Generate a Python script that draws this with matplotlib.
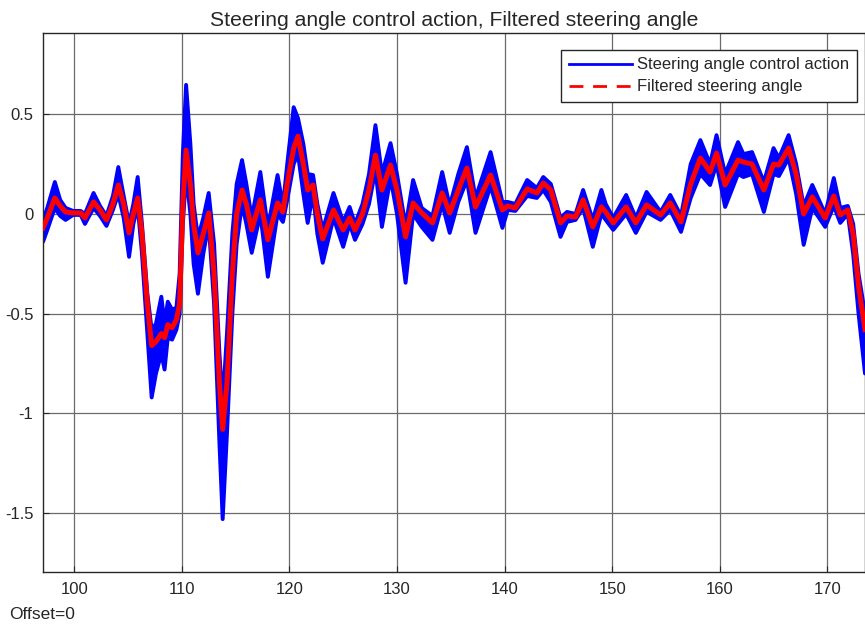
import matplotlib
matplotlib.use("Agg")
import matplotlib.pyplot as plt
from matplotlib.lines import Line2D

plt.rcParams['font.family'] = ['Liberation Sans', 'DejaVu Sans']

# time (s), filtered steering angle, and the band the noisy control action sweeps
t = [97.1, 97.5, 98.2, 98.7, 99.2, 99.9, 100.6, 101.0, 101.8, 102.4, 103.0, 103.6,
     104.1, 104.6, 105.1, 105.5, 105.9, 106.3, 106.8, 107.2, 107.6, 108.1, 108.4,
     108.7, 109.1, 109.5, 109.8, 110.1, 110.4, 110.8, 111.1, 111.5, 112.0, 112.5,
     113.0, 113.5, 113.8, 114.2, 114.7, 115.1, 115.6, 116.0, 116.5, 117.3, 118.0,
     118.9, 119.4, 119.8, 120.4, 120.8, 121.3, 121.7, 122.2, 122.6, 123.1, 124.1,
     125.0, 125.6, 126.1, 126.8, 127.4, 128.0, 128.6, 129.4, 130.0, 130.8, 131.5,
     132.3, 133.3, 134.2, 134.9, 135.7, 136.5, 137.3, 138.7, 139.8, 140.3, 141.0,
     142.1, 143.0, 143.6, 144.3, 145.2, 145.8, 146.6, 147.3, 148.2, 149.0, 149.4,
     150.1, 151.3, 152.2, 153.2, 154.5, 155.4, 156.4, 157.3, 158.2, 159.1, 159.7,
     160.5, 161.7, 162.2, 163.0, 164.1, 165.0, 165.5, 166.4, 167.1, 167.8, 168.6,
     169.8, 170.6, 171.2, 171.9, 172.4, 172.9, 173.5]

filtered = [-0.07, -0.02, 0.08, 0.04, 0.01, 0.005, 0.005, -0.02, 0.06, 0.02, -0.03, 0.05,
            0.145, 0.05, -0.095, 0.0, 0.08, -0.1, -0.45, -0.66, -0.64, -0.6, -0.62,
            -0.555, -0.57, -0.53, -0.45, 0.05, 0.32, 0.15, -0.05, -0.195, -0.1, 0.005,
            -0.3, -0.85, -1.08, -0.85, -0.3, 0.0, 0.12, 0.05, -0.08, 0.07, -0.13,
            0.055, 0.01, 0.15, 0.33, 0.39, 0.25, 0.12, 0.145, 0.0, -0.125, 0.02,
            -0.08, -0.02, -0.08, 0.0, 0.12, 0.295, 0.12, 0.245, 0.12, -0.115, 0.055,
            0.005, -0.045, 0.105, 0.005, 0.12, 0.23, 0.035, 0.195, 0.02, 0.04, 0.03,
            0.125, 0.105, 0.155, 0.12, -0.045, -0.01, -0.015, 0.07, -0.065, 0.035, 0.01,
            -0.045, 0.035, -0.045, 0.045, -0.005, 0.055, -0.04, 0.15, 0.28, 0.21, 0.305,
            0.145, 0.27, 0.26, 0.25, 0.12, 0.25, 0.245, 0.33, 0.2, 0.0, 0.085,
            -0.02, 0.09, -0.005, 0.02, -0.1, -0.36, -0.58]

action_hi = [-0.03, 0.03, 0.16, 0.07, 0.03, 0.015, 0.015, 0.0, 0.105, 0.04, -0.01, 0.09,
             0.235, 0.09, -0.05, 0.05, 0.185, -0.05, -0.4, -0.58, -0.55, -0.415, -0.55,
             -0.44, -0.48, -0.47, -0.3, 0.3, 0.647, 0.35, 0.05, -0.12, -0.02, 0.105,
             -0.15, -0.7, -0.95, -0.6, -0.1, 0.15, 0.27, 0.15, -0.02, 0.21, -0.07,
             0.195, 0.04, 0.25, 0.535, 0.48, 0.35, 0.2, 0.195, 0.05, -0.08, 0.105,
             -0.04, 0.035, -0.05, 0.05, 0.2, 0.445, 0.2, 0.355, 0.2, -0.06, 0.17,
             0.03, -0.01, 0.21, 0.04, 0.2, 0.335, 0.08, 0.31, 0.06, 0.06, 0.05,
             0.17, 0.13, 0.185, 0.15, -0.02, 0.01, 0.0, 0.12, -0.03, 0.12, 0.05,
             -0.02, 0.095, -0.02, 0.11, 0.01, 0.095, -0.01, 0.25, 0.37, 0.25, 0.395,
             0.2, 0.36, 0.3, 0.31, 0.16, 0.33, 0.28, 0.395, 0.25, 0.04, 0.145,
             0.0, 0.18, 0.03, 0.04, -0.05, -0.3, -0.5]

action_lo = [-0.14, -0.08, 0.03, -0.01, -0.03, -0.005, -0.005, -0.05, 0.03, -0.01, -0.06, 0.02,
             0.1, -0.02, -0.215, -0.05, 0.04, -0.2, -0.6, -0.92, -0.8, -0.7, -0.78,
             -0.62, -0.63, -0.58, -0.5, -0.05, 0.2, 0.0, -0.25, -0.4, -0.2, -0.05,
             -0.45, -1.15, -1.53, -1.1, -0.5, -0.15, 0.05, -0.05, -0.195, 0.0, -0.315,
             0.0, -0.04, 0.07, 0.25, 0.3, 0.1, -0.045, 0.1, -0.1, -0.245, -0.02,
             -0.165, -0.05, -0.13, -0.05, 0.05, 0.22, -0.065, 0.18, 0.0, -0.345, 0.0,
             -0.065, -0.13, 0.05, -0.095, 0.06, 0.17, -0.095, 0.14, -0.07, 0.02, 0.015,
             0.09, 0.08, 0.12, 0.06, -0.115, -0.04, -0.03, 0.03, -0.165, 0.0, -0.03,
             -0.08, 0.0, -0.095, 0.01, -0.03, 0.02, -0.09, 0.08, 0.2, 0.145, 0.25,
             0.035, 0.2, 0.185, 0.2, 0.01, 0.2, 0.19, 0.28, 0.1, -0.155, 0.03,
             -0.065, 0.04, -0.045, 0.0, -0.2, -0.5, -0.8]

xticks = [100, 110, 120, 130, 140, 150, 160, 170]
yticks = [0.5, 0, -0.5, -1, -1.5]
ytick_labels = ["0.5", "0", "-0.5", "-1", "-1.5"]

fig = plt.figure(figsize=(8.65, 6.25), dpi=100)
ax = fig.add_axes([0.0497, 0.0848, 0.9503, 0.8624])

blue = '#0000ff'
red = '#ff0000'
ax.fill_between(t, action_lo, action_hi, color=blue, lw=0, zorder=2)
ax.plot(t, action_hi, color=blue, lw=2.8, zorder=2,
        solid_capstyle='round', solid_joinstyle='round')
ax.plot(t, action_lo, color=blue, lw=2.8, zorder=2,
        solid_capstyle='round', solid_joinstyle='round')
ax.plot(t, filtered, color=red, lw=3.6, zorder=3, solid_joinstyle='round')

ax.set_xlim(97.1, 173.5)
ax.set_ylim(-1.795, 0.907)
ax.set_xticks(xticks)
ax.set_yticks(yticks)
ax.set_yticklabels(ytick_labels)
ax.grid(True, color='#6a6a6a', lw=0.9, zorder=0)
ax.set_axisbelow(True)
ax.tick_params(direction='in', length=4, labelsize=12, colors='#262626',
               top=False, right=False)
ax.tick_params(axis='x', pad=7)
ax.tick_params(axis='y', pad=7)
for s in ax.spines.values():
    s.set_color('#262626')
    s.set_linewidth(1.0)

ax.set_title("Steering angle control action, Filtered steering angle",
             fontsize=15.2, color='#262626', pad=5)

handles = [Line2D([], [], color=blue, lw=2.0),
           Line2D([], [], color=red, lw=2.0, ls=(0, (5, 3.5)))]
leg = ax.legend(handles, ["Steering angle control action", "Filtered steering angle"],
                loc='upper right', bbox_to_anchor=(0.990, 0.9685), borderaxespad=0,
                fontsize=12, fancybox=False, framealpha=1,
                edgecolor='#262626', handlelength=3.8,
                labelspacing=0.42, borderpad=0.45, handletextpad=0.3)
leg.get_frame().set_linewidth(1.0)
for txt in leg.get_texts():
    txt.set_color('#262626')

fig.text(0.011, 0.009, "Offset=0", fontsize=12.5, color='#262626')

fig.savefig("out.png", dpi=100)
